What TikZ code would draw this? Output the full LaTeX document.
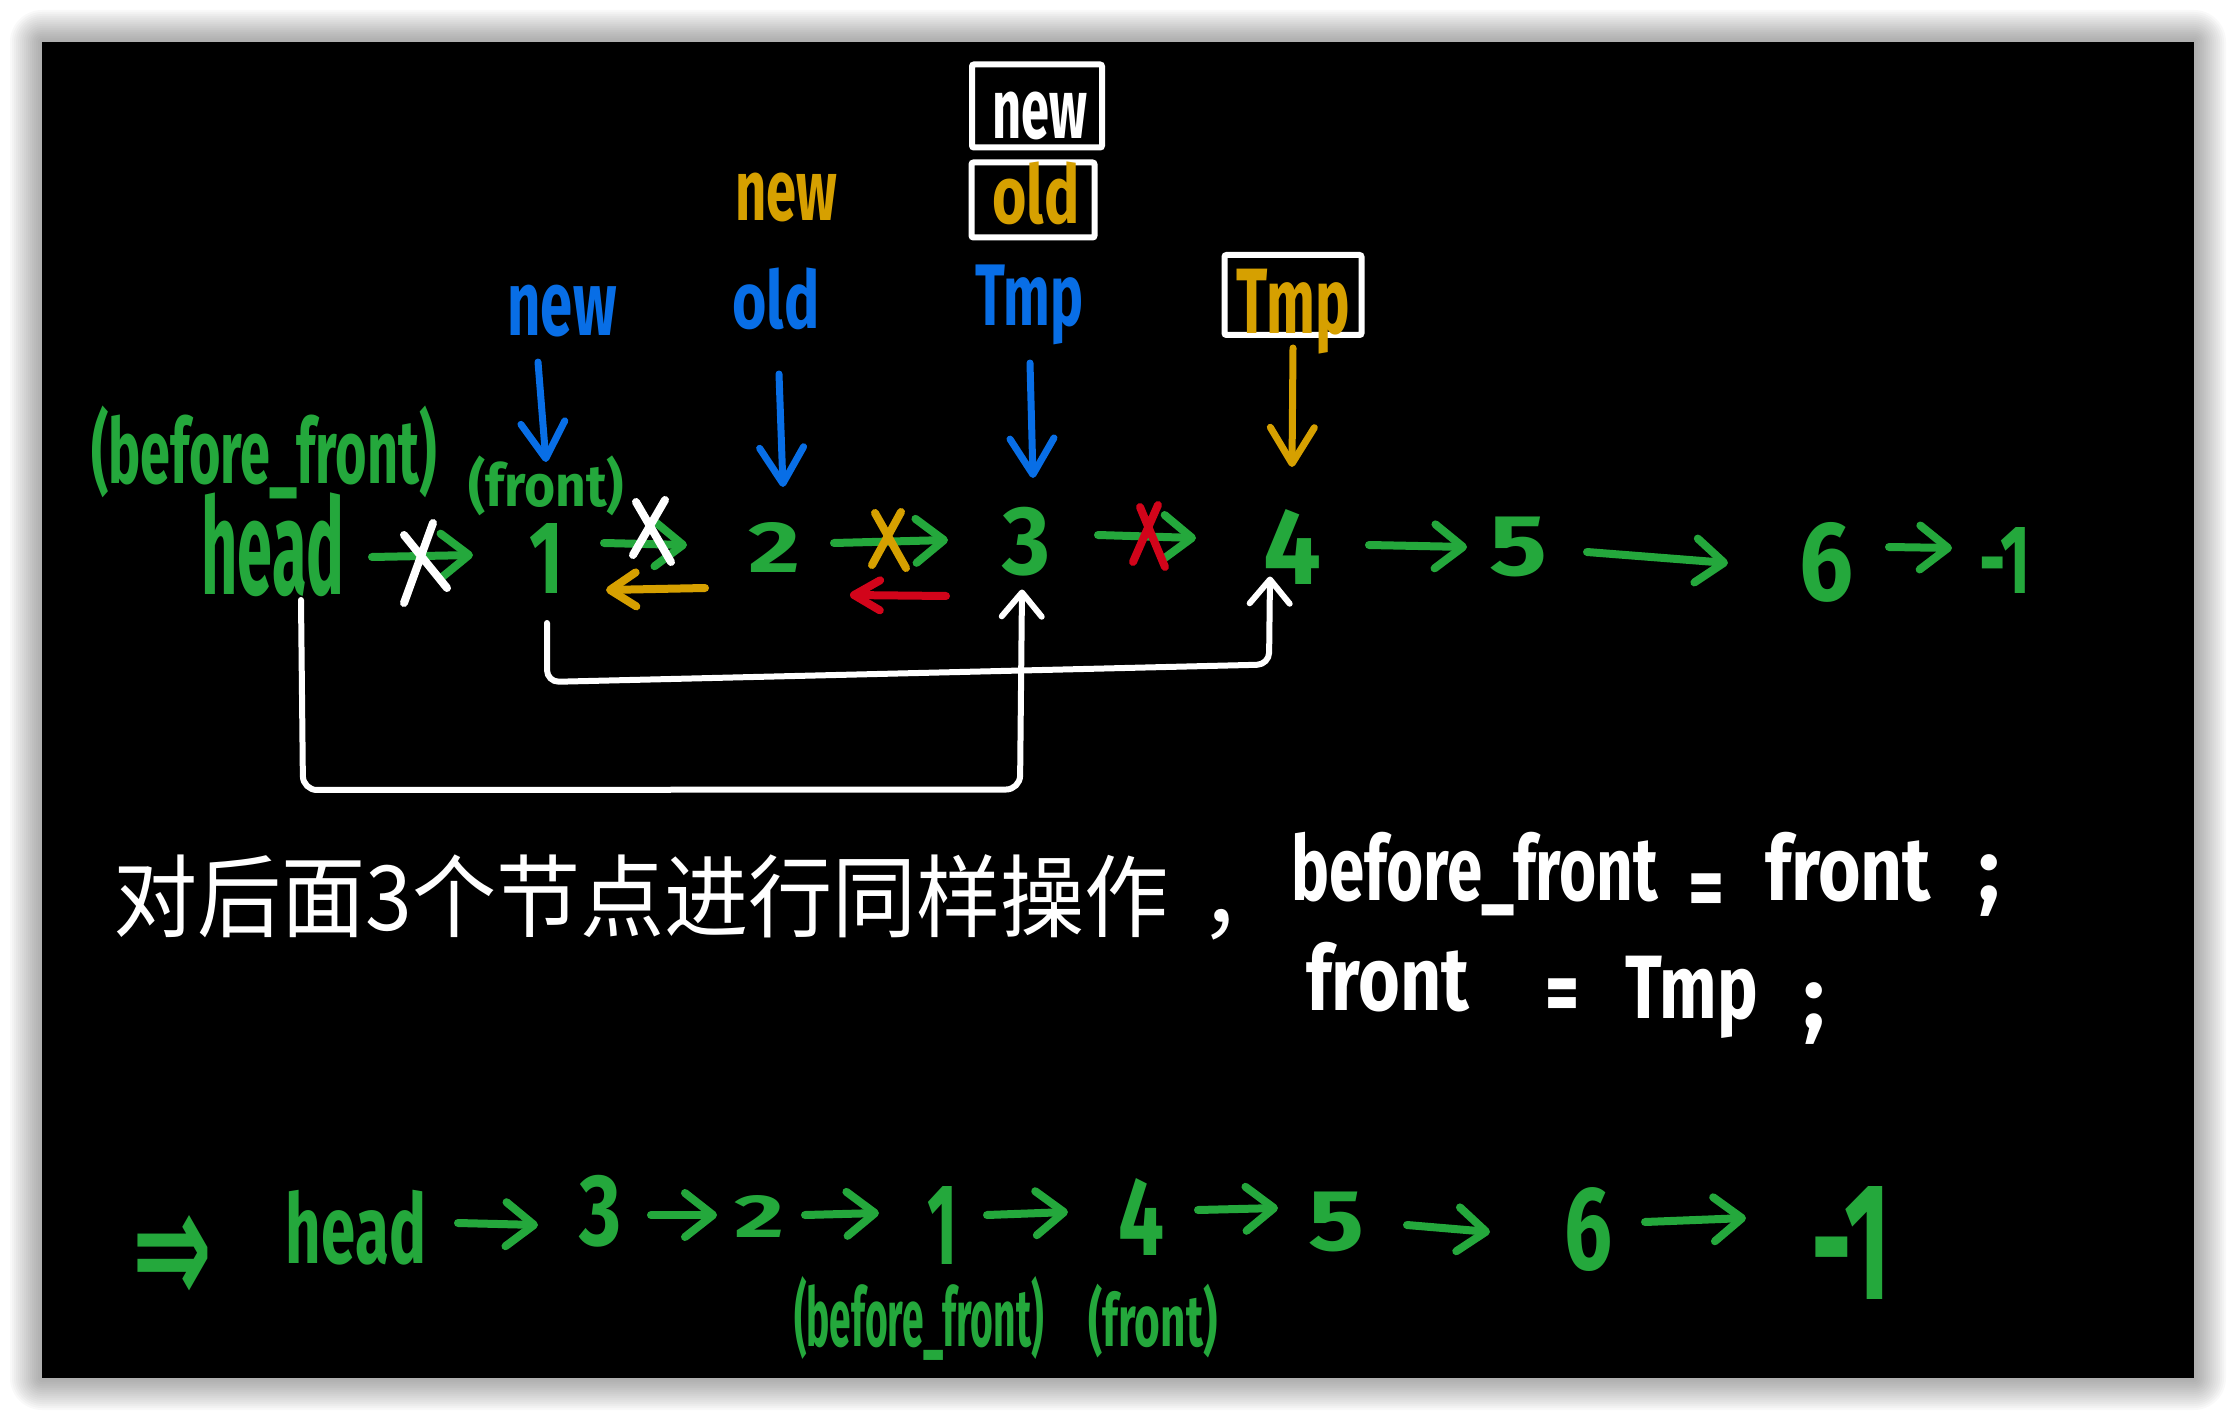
\documentclass[tikz,border=0pt]{standalone}
\usepackage{fontspec}
\usepackage{graphicx}
\setmainfont{Fira Sans}
\newfontfamily\cjk{Noto Sans CJK SC}
\newfontfamily\djv{DejaVu Sans}
\usetikzlibrary{arrows.meta,calc}
\definecolor{grn}{RGB}{36,168,60}
\definecolor{blu}{RGB}{8,110,230}
\definecolor{gld}{RGB}{214,160,0}
\definecolor{rd}{RGB}{210,4,26}
\newcommand\fitbox[3]{\resizebox*{#1pt}{#2pt}{#3}}
\newcommand\fitw[2]{\resizebox{#1pt}{\height}{#2}}
\begin{document}
\begin{tikzpicture}[x=1pt,y=-1pt,
  t/.style={inner sep=0pt,outer sep=0pt,font=\bfseries\fontsize{90}{90}\selectfont},
  gt/.style={t,text=grn},
  bt/.style={t,text=blu},
  yt/.style={t,text=gld},
  wt/.style={t,text=white},
  lk/.style={line width=8pt,line cap=round,line join=round},
  ga/.style={lk,grn,-{Straight Barb[length=28pt,width=44pt,round]}},
  ba/.style={lk,line width=7pt,blu,-{Straight Barb[length=36pt,width=44pt,round]}},
  ya/.style={lk,line width=7pt,gld,-{Straight Barb[length=36pt,width=44pt,round]}},
  yb/.style={lk,gld,-{Straight Barb[length=26pt,width=34pt,round]}},
  rb/.style={lk,rd,-{Straight Barb[length=26pt,width=30pt,round]}},
  wl/.style={lk,line width=6pt,white,-{Straight Barb[length=24pt,width=40pt,round]}},
  xw/.style={lk,white},
  xy/.style={lk,gld},
  xr/.style={lk,rd},
  wbox/.style={draw=white,line width=6pt,rectangle,inner sep=0pt,rounded corners=2pt}
]
\useasboundingbox (0,0) rectangle (2236,1420);
% shadow and board
\foreach \i in {1,...,16}{
  \pgfmathsetmacro{\d}{\i*2}
  \fill[black,opacity=0.022,rounded corners=\d pt] ({42-\d},{42-\d}) rectangle ({2194+\d},{1378+\d});
}
\fill[black] (42,42) rectangle (2194,1378);

% ---------- top row ----------
\node[gt] (bf1) at (264,452) {\fitbox{346}{93}{(before\_front)}};
\node[gt] (head1) at (273,545) {\fitbox{143}{104}{head}};
\node[gt] (fr1) at (546,486) {\fitbox{156}{60}{(front)}};
\node[gt] (n1) at (546,558) {\fitbox{34}{70}{1}};
\node[gt] (n2) at (774,547) {\fitbox{52}{50}{2}};
\node[gt] (n3) at (1026,542) {\fitbox{48}{69}{3}};
\node[gt] (n4) at (1292,547) {\fitbox{58}{75}{4}};
\node[gt] (n5) at (1518,547) {\fitbox{58}{60}{5}};
\node[gt] (n6) at (1826,562) {\fitbox{54}{80}{6}};
\node[gt] (nm1) at (2005,560) {\fitbox{52}{66}{-1}};

% labels
\node[bt] (lnew) at (562,311) {\fitbox{109}{52}{new}};
\node[bt] (lold) at (776,299) {\fitbox{87}{62}{old}};
\node[bt] (ltmp) at (1029,305) {\fitbox{108}{80}{Tmp}};
\node[yt] (gnew) at (786,197) {\fitbox{102}{49}{new}};
\node[wbox,minimum width=130pt,minimum height=83pt] (bxnew) at (1037,106) {};
\node[wbox,minimum width=123pt,minimum height=75pt] (bxold) at (1033,200) {};
\node[wbox,minimum width=137pt,minimum height=80pt] (bxtmp) at (1293,295) {};
\node[wt] (wnew) at (1040,116) {\fitbox{95}{48}{new}};
\node[yt] (gold) at (1036,193) {\fitbox{87}{63}{old}};
\node[yt] (gtmp) at (1293,312) {\fitbox{113}{85}{Tmp}};

% pointer arrows
\coordinate (pa1) at (538,362); \coordinate (pb1) at (546,462);
\coordinate (pa2) at (779,374); \coordinate (pb2) at (783,487);
\coordinate (pa3) at (1030,363); \coordinate (pb3) at (1033,478);
\coordinate (pa4) at (1293,348); \coordinate (pb4) at (1292,467);
\draw[ba] (pa1) -- (pb1);
\draw[ba] (pa2) -- (pb2);
\draw[ba] (pa3) -- (pb3);
\draw[ya] (pa4) -- (pb4);

% link arrows top
\coordinate (t1a) at (372,557); \coordinate (t1b) at (473,555);
\coordinate (t2a) at (604,543); \coordinate (t2b) at (687,545);
\coordinate (t3a) at (705,588); \coordinate (t3b) at (606,590);
\coordinate (t4a) at (834,543); \coordinate (t4b) at (948,540);
\coordinate (t5a) at (946,596); \coordinate (t5b) at (850,595);
\coordinate (t6a) at (1098,535); \coordinate (t6b) at (1196,538);
\coordinate (t7a) at (1369,545); \coordinate (t7b) at (1467,547);
\coordinate (t8a) at (1587,552); \coordinate (t8b) at (1728,563);
\coordinate (t9a) at (1889,547); \coordinate (t9b) at (1952,548);
\draw[ga] (t1a) -- (t1b);
\draw[ga] (t2a) -- (t2b);
\draw[yb] (t3a) -- (t3b);
\draw[ga] (t4a) -- (t4b);
\draw[rb] (t5a) -- (t5b);
\draw[ga] (t6a) -- (t6b);
\draw[ga] (t7a) -- (t7b);
\draw[ga] (t8a) -- (t8b);
\draw[ga] (t9a) -- (t9b);

% crosses
\draw[xw] (433,523) -- (404,603) (404,535) -- (447,588);
\draw[xw] (665,500) -- (633,555) (636,502) -- (671,562);
\draw[xy] (875,513) -- (906,568) (901,512) -- (872,565);
\draw[xr] (1158,505) -- (1133,562) (1140,507) -- (1165,567);

% white rerouting connectors
\draw[wl,rounded corners=14pt] ($(head1.south)+(28,3)$) -- ($(head1.south)+(30,193)$) -- ($(n3.south)+(-6,213)$) -- ($(n3.south)+(-4,13)$);
\draw[wl,rounded corners=12pt] ($(n1.south)+(1,30)$) -- ($(n1.south)+(1,89)$) -- ($(n4.south)+(-23,80)$) -- ($(n4.south)+(-22,-8)$);

% ---------- text ----------
\node[wt,anchor=west] (zh) at (113,897) {\mdseries\cjk\fontsize{90}{90}\selectfont\fitw{1056}{对后面3个节点进行同样操作}\hspace{30pt}，};
\node[wt,anchor=base west] (e1a) at (1291,900) {\fitw{367}{before\_front}};
\node[wt,anchor=base west] (e1b) at (1688,918) {\fitw{36}{=}};
\node[wt,anchor=base west] (e1c) at (1765,900) {\fitw{166}{front}};
\node[wt,anchor=base west] (e1d) at (1978,900) {;};
\node[wt,anchor=base west] (e2a) at (1306,1010) {\fitw{163}{front}};
\node[wt,anchor=base west] (e2b) at (1545,1023) {\fitw{34}{=}};
\node[wt,anchor=base west] (e2c) at (1625,1018) {\fitw{133}{Tmp}};
\node[wt,anchor=base west] (e2d) at (1803,1028) {;};

% ---------- bottom row ----------
\node[gt] (dbl) at (172,1260) {\djv\fitbox{80}{90}{⇒}};
\node[gt] (head2) at (356,1228) {\fitbox{140}{75}{head}};
\node[gt] (m3) at (600,1211) {\fitbox{42}{72}{3}};
\node[gt] (m2) at (759,1216) {\fitbox{50}{42}{2}};
\node[gt] (m1) at (942,1225) {\fitbox{30}{78}{1}};
\node[gt] (m4) at (1141,1217) {\fitbox{46}{77}{4}};
\node[gt] (m5) at (1336,1222) {\fitbox{56}{60}{5}};
\node[gt] (m6) at (1588,1230) {\fitbox{48}{84}{6}};
\node[gt] (mm1) at (1851,1243) {\fitbox{80}{113}{-1}};
\node[gt] (bf2) at (919,1318) {\fitbox{250}{84}{(before\_front)}};
\node[gt] (fr2) at (1153,1321) {\fitbox{129}{74}{(front)}};

\coordinate (b1a) at (458,1223); \coordinate (b1b) at (538,1225);
\coordinate (b2a) at (651,1215); \coordinate (b2b) at (717,1215);
\coordinate (b3a) at (805,1215); \coordinate (b3b) at (879,1213);
\coordinate (b4a) at (987,1215); \coordinate (b4b) at (1068,1212);
\coordinate (b5a) at (1198,1210); \coordinate (b5b) at (1278,1208);
\coordinate (b6a) at (1407,1225); \coordinate (b6b) at (1490,1232);
\coordinate (b7a) at (1645,1222); \coordinate (b7b) at (1746,1218);
\draw[ga] (b1a) -- (b1b);
\draw[ga] (b2a) -- (b2b);
\draw[ga] (b3a) -- (b3b);
\draw[ga] (b4a) -- (b4b);
\draw[ga] (b5a) -- (b5b);
\draw[ga] (b6a) -- (b6b);
\draw[ga] (b7a) -- (b7b);
\end{tikzpicture}
\end{document}
